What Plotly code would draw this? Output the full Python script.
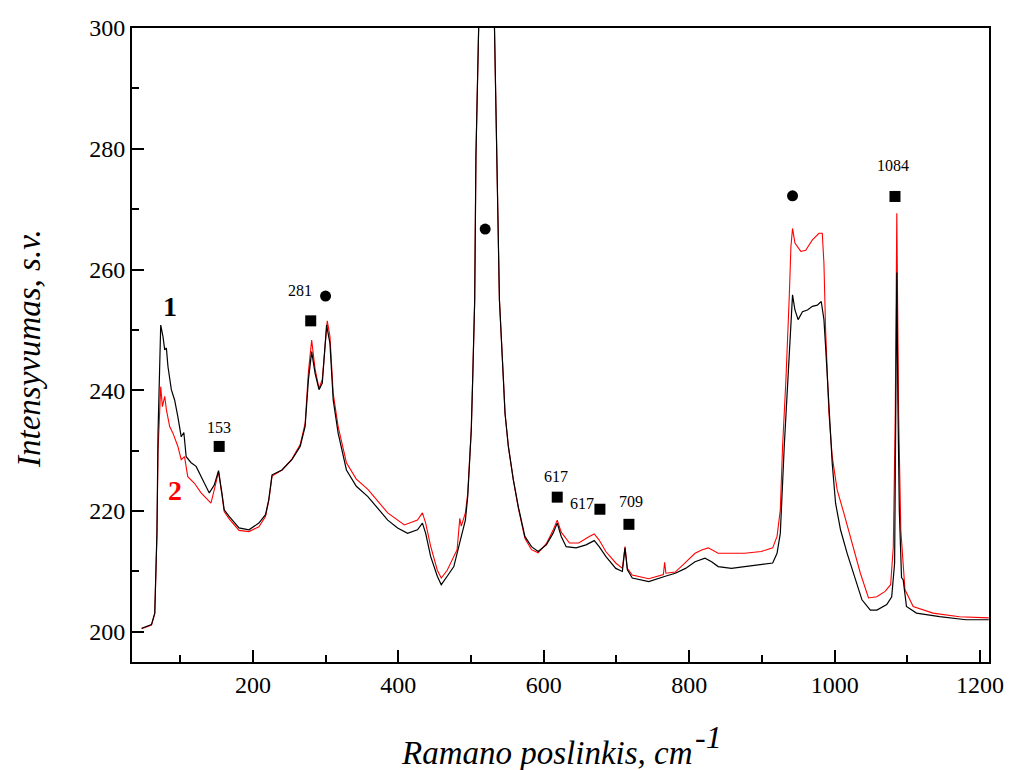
import plotly.graph_objects as go

# Raman spectra of the two samples (Raman shift, cm-1 ; intensity, a.u.)
shift_1 = [46.9, 60.5, 65, 68, 69.5, 73.2, 76.3, 78.7, 81, 83.2, 87.8, 92.3, 96.8, 101.4, 105,
           108.2, 115, 121.9, 130.9, 140, 146.8, 152.7, 157.3, 160.5, 167.3, 180.9, 194.5, 208.2,
           217.3, 221.8, 226.3, 240, 253.6, 265, 271.8, 276.3, 280.8, 285.5, 290.9, 295.4, 301.3,
           305.9, 310.4, 317.2, 328.6, 342.2, 358.1, 371.8, 385.4, 399, 412.7, 426.3, 433.1, 437.6,
           444.4, 453.6, 459, 467.2, 476.3, 485.3, 492.2, 495.4, 498.2, 500.3, 502.2, 505, 506.7,
           510.4, 521, 532.2, 535.4, 539, 544.5, 546.7, 551.3, 558.1, 565, 574, 583.1, 592.2, 603.5,
           612.7, 618.5, 624, 630.8, 644.4, 658.1, 669.4, 676.2, 685.3, 699, 708.1, 711.7, 714.9,
           721.7, 744.4, 767.1, 780.8, 795, 808, 821.7, 830.8, 839.8, 858.1, 876.2, 898.9, 914.8,
           920.8, 925.3, 930.7, 935.3, 939, 942.1, 945.4, 949.8, 955.8, 962.6, 969.4, 976.2, 981.6,
           985.3, 987.6, 992.1, 996.7, 1001.3, 1008.1, 1017.2, 1028.6, 1037.6, 1049.1, 1058.1,
           1071.7, 1078.5, 1082.5, 1084, 1085.5, 1087, 1089, 1092, 1094.3, 1098.8, 1112.5, 1144.4,
           1180.7, 1212]
intensity_1 = [200.6, 201.2, 203.1, 216.4, 233, 250.8, 248.9, 246.7, 247, 243.9, 240.1, 238.4, 235.6,
               232.3, 233, 229, 228, 227.4, 225.2, 223, 224.3, 226.7, 223, 220.2, 219.1, 217.2, 216.9,
               218, 219.4, 221.9, 226, 226.8, 228.5, 230.7, 234, 241.7, 246.4, 242.8, 240.1, 241.2,
               250.8, 247.8, 238.4, 232.9, 226.8, 224.1, 222.4, 220.5, 218.5, 217.2, 216.3, 216.9,
               218, 216.3, 212.5, 209.2, 207.8, 209.2, 210.8, 215.2, 218.5, 222.4, 227.9, 233.4,
               241.7, 255, 278.7, 300, 360, 300, 277, 255, 241.7, 236.2, 230.7, 225.2, 220.7, 215.8,
               214.1, 213.3, 214.4, 216.3, 218, 215.8, 214.1, 213.9, 214.4, 215.1, 214.1, 212.5,
               210.5, 210, 213.9, 210.3, 208.9, 208.3, 209.2, 209.7, 210.5, 211.6, 212.2, 211.6,
               210.8, 210.5, 210.8, 211.1, 211.4, 213, 216.3, 230.7, 241.7, 250.5, 255.8, 253.3,
               251.7, 253, 253.3, 253.9, 254.1, 254.7, 251.7, 247.2, 237.3, 227.9, 221.3, 216.9,
               213, 208.6, 205.3, 203.6, 203.6, 204.5, 205.8, 211.4, 235, 259.5, 238, 220, 209,
               208.6, 204.2, 203.1, 202.5, 202, 202]

shift_2 = [46.9, 60.5, 65, 68, 69.5, 73.2, 75.5, 78.7, 81, 85.5, 90, 96.8, 101.4, 105.9, 110.4,
           119.6, 128.7, 142.3, 146.8, 152.7, 157.3, 160.5, 167.3, 180.9, 194.5, 208.2, 217.3,
           221.8, 226.3, 240, 253.6, 265, 271.8, 276.3, 280.8, 285.5, 290.9, 295.4, 302.2, 305.9,
           310.4, 317.2, 328.6, 342.2, 358.1, 371.8, 385.4, 408.2, 426.3, 433.1, 437.6, 444.4,
           453.6, 459, 467.2, 480.8, 484.5, 486.5, 492.2, 495.4, 498.2, 500.3, 502.2, 505, 506.7,
           510.4, 521, 532.2, 535.4, 539, 544.5, 546.7, 551.3, 558.1, 565, 574, 583.1, 592.2, 603.5,
           612.7, 618.5, 624, 635.3, 648, 662.6, 669.4, 676.2, 685.3, 699, 708.1, 711.7, 714.9,
           721.7, 744.4, 764.5, 766.2, 768, 780.8, 795, 808, 818, 826.2, 839.8, 858.1, 876.2,
           898.9, 914.8, 920.8, 925.3, 928.4, 933, 937.6, 939.9, 942.1, 945.4, 953.5, 960.3,
           969.4, 978.5, 983, 985.3, 987.6, 992.1, 996.7, 1003.5, 1012.6, 1023.9, 1035.4, 1046.6,
           1058, 1069.4, 1077, 1080.7, 1083.4, 1085.5, 1088, 1091, 1096.7, 1108, 1135.3, 1171.6,
           1212]
intensity_2 = [200.5, 201.1, 203, 216, 230, 240.6, 237.3, 239, 236.8, 234, 232.9, 230.7, 228.5, 229,
               225.7, 224.6, 223, 221.3, 223.5, 226.5, 222.8, 219.9, 218.7, 216.8, 216.6, 217.4,
               219.1, 221.7, 225.8, 226.8, 228.6, 231, 234.5, 243, 248.3, 243.5, 240.3, 241.8,
               251.5, 249, 239.5, 234, 228, 225.3, 223.6, 221.6, 219.7, 217.7, 218.5, 219.7, 218,
               214.2, 210.2, 208.9, 210.2, 213.6, 218.8, 217.5, 219.7, 222.9, 228.2, 233.6, 241.7,
               255, 278.7, 300, 360, 300, 277, 255, 241.7, 236.2, 230.7, 225.2, 220.5, 215.5, 213.6,
               213.1, 214.6, 216.8, 218.5, 216.5, 214.7, 214.7, 215.8, 216.2, 215.2, 213.3, 211.4,
               210.5, 214.1, 210.5, 209.4, 208.8, 209.5, 211.5, 209.7, 209.9, 211.5, 213, 213.6,
               213.9, 213, 213, 213, 213.3, 213.9, 215.8, 220.2, 230.7, 241.7, 255.5, 263.8, 266.8,
               264.4, 263, 263.2, 264.9, 266, 266, 261, 250, 236.2, 229, 223.5, 219.7, 214.7,
               209.7, 205.6, 205.8, 206.7, 207.8, 214.1, 236.2, 269.3, 236.2, 216.9, 207, 204.2,
               203.1, 202.5, 202.3]

# Band assignments: square and circle markers with their wavenumber labels
square_x = [153.6, 279.5, 618.5, 677.2, 717.1, 1083]
square_y = [230.7, 251.5, 222.3, 220.3, 217.8, 272.1]
circle_x = [299.9, 519.4, 942.1]
circle_y = [255.6, 266.7, 272.2]
band_labels = ["153", "281", "617", "617", "709", "1084"]
band_label_x = [153.6, 265, 617.2, 652.6, 720.4, 1079.8]
band_label_y = [233.9, 256.5, 225.7, 221.3, 221.6, 277.2]

curve_labels = ["1", "2"]
curve_label_x = [85.5, 93.5]
curve_label_y = [253.8, 223.4]

SERIF = "Liberation Serif, Times New Roman, Times, serif"

fig = go.Figure()
fig.add_trace(go.Scatter(x=shift_2, y=intensity_2, mode="lines",
                         line=dict(color="#ff0000", width=1.1), showlegend=False))
fig.add_trace(go.Scatter(x=shift_1, y=intensity_1, mode="lines",
                         line=dict(color="#000000", width=1.2), showlegend=False))
fig.add_trace(go.Scatter(x=square_x, y=square_y, mode="markers",
                         marker=dict(symbol="square", size=11, color="black"), showlegend=False))
fig.add_trace(go.Scatter(x=circle_x, y=circle_y, mode="markers",
                         marker=dict(symbol="circle", size=11, color="black"), showlegend=False))

annotations = []
for t, x, y in zip(band_labels, band_label_x, band_label_y):
    annotations.append(dict(x=x, y=y, xref="x", yref="y", text=t, showarrow=False,
                            font=dict(family=SERIF, size=16, color="black"),
                            xanchor="center", yanchor="middle"))
for t, x, y, c in zip(curve_labels, curve_label_x, curve_label_y, ["black", "#ff0000"]):
    annotations.append(dict(x=x, y=y, xref="x", yref="y", text="<b>" + t + "</b>",
                            showarrow=False, font=dict(family=SERIF, size=28, color=c),
                            xanchor="center", yanchor="middle"))

# axis titles
annotations.append(dict(x=0, y=0.5, xref="paper", yref="paper", xshift=-103, yshift=-4,
                        text="<i>Intensyvumas, s.v.</i>", textangle=-90, showarrow=False,
                        font=dict(family=SERIF, size=33, color="black"),
                        xanchor="center", yanchor="middle"))
annotations.append(dict(x=0.5, y=0, xref="paper", yref="paper", xshift=-14, yshift=-91,
                        text="<i>Ramano poslinkis, cm</i>", showarrow=False,
                        font=dict(family=SERIF, size=33, color="black"),
                        xanchor="center", yanchor="middle"))
annotations.append(dict(x=0.5, y=0, xref="paper", yref="paper", xshift=148, yshift=-75,
                        text="<i>-1</i>", showarrow=False,
                        font=dict(family=SERIF, size=32, color="black"),
                        xanchor="center", yanchor="middle"))

axis_common = dict(showline=True, linecolor="black", linewidth=2, mirror=True,
                   ticks="inside", tickcolor="black", tickwidth=1.5, ticklen=12,
                   showgrid=False, zeroline=False,
                   tickfont=dict(family=SERIF, size=24, color="black"))

fig.update_xaxes(range=[33.7, 1212.3], tick0=0, dtick=200,
                 minor=dict(ticks="inside", dtick=100, ticklen=7, tickwidth=1.5, tickcolor="black"),
                 **axis_common)
fig.update_yaxes(range=[195, 300], tick0=0, dtick=20,
                 minor=dict(ticks="inside", dtick=10, ticklen=7, tickwidth=1.5, tickcolor="black"),
                 **axis_common)

fig.update_layout(width=1016, height=770, autosize=False,
                  margin=dict(l=132, r=19, t=28, b=108),
                  paper_bgcolor="white", plot_bgcolor="white",
                  font=dict(family=SERIF, color="black"),
                  annotations=annotations)

fig.write_html("out.html")
